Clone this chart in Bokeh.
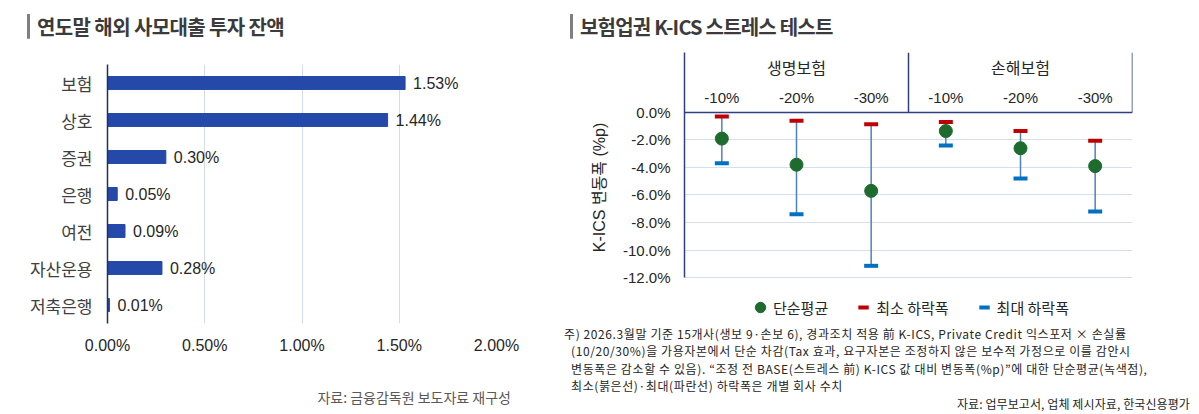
from bokeh.plotting import figure
from bokeh.models import (FactorRange, FixedTicker, PrintfTickFormatter, Span,
                          Legend, LegendItem, Div)
from bokeh.layouts import row, column
from bokeh.core.properties import value
from bokeh.embed import file_html
from bokeh.resources import INLINE

FONT = "Liberation Sans, Noto Sans CJK KR"
KFONT = "Noto Sans CJK KR"

#left chart data (연도말 해외 사모대출 투자 잔액, %)
sectors = ["보험", "상호", "증권", "은행", "여전", "자산운용", "저축은행"]
balance = [1.53, 1.44, 0.30, 0.05, 0.09, 0.28, 0.01]
balance_ticks = [0, 0.5, 1.0, 1.5, 2.0]

#right chart data (K-ICS 변동폭, %p)
groups = ["생명보험", "손해보험"]
shocks = ["-10%", "-20%", "-30%"]
avg_drop = [-1.9, -3.8, -5.7, -1.35, -2.6, -3.9]
min_drop = [-0.3, -0.6, -0.85, -0.7, -1.35, -2.05]
max_drop = [-3.7, -7.4, -11.15, -2.4, -4.8, -7.2]
kics_ticks = [0, -2, -4, -6, -8, -10, -12]


def title_div(text, width, left, spacing):
    html = ('<div style="margin:6px 0 0 %dpx;border-left:3px solid #7f7f7f;padding-left:7px;'
            'height:26px;line-height:26px;font-family:\'Noto Sans CJK KR\';font-size:20px;'
            'font-weight:700;color:#3b3b3b;letter-spacing:%.1fpx;white-space:nowrap">%s</div>'
            % (left, spacing, text))
    return Div(text=html, width=width, height=30, margin=0)


#left: horizontal bars
p1 = figure(width=545, height=334, y_range=FactorRange(*reversed(sectors)), x_range=(0, 2.0),
            output_backend="svg", toolbar_location=None,
            min_border_left=99, min_border_right=57, min_border_top=26, min_border_bottom=49)
p1.hbar(y=sectors, right=balance, height=0.35, color="#2449A9")
p1.text(x=balance, y=sectors, text=["%.2f%%" % v for v in balance], x_offset=8,
        text_baseline="middle", text_font_size="16px", text_font=value(FONT), text_color="#262626")
p1.outline_line_color = None
p1.ygrid.visible = False
p1.xgrid.ticker = FixedTicker(ticks=balance_ticks)
p1.xgrid.grid_line_color = "#D3DCEC"
p1.xaxis.ticker = FixedTicker(ticks=balance_ticks)
p1.xaxis.formatter = PrintfTickFormatter(format="%.2f%%")
p1.xaxis.axis_line_color = None
p1.xaxis.major_tick_line_color = None
p1.xaxis.minor_tick_line_color = None
p1.xaxis.major_tick_out = 0
p1.xaxis.minor_tick_out = 0
p1.xaxis.major_label_text_font = FONT
p1.xaxis.major_label_text_font_size = "16px"
p1.xaxis.major_label_text_color = "#262626"
p1.xaxis.major_label_standoff = 13
p1.yaxis.axis_line_color = "#1F2D6B"
p1.yaxis.axis_line_width = 1.5
p1.yaxis.major_tick_line_color = None
p1.yaxis.major_tick_out = 0
p1.yaxis.major_label_text_font = KFONT
p1.yaxis.major_label_text_font_size = "17px"
p1.yaxis.major_label_text_color = "#404040"
p1.yaxis.major_label_standoff = 15

src1 = Div(text='<div style="display:block;width:503px;text-align:right;padding-top:17px;'
                'font-family:\'Noto Sans CJK KR\';font-size:14px;line-height:16px;color:#595959;'
                'white-space:nowrap">자료: 금융감독원 보도자료 재구성</div>',
           width=545, height=34, margin=0)


#right: stress test range chart
factors = [(g, s) for g in groups for s in shocks]
y_top = 4.36
p2 = figure(width=638, height=284,
            x_range=FactorRange(*factors, factor_padding=0, group_padding=0, range_padding=0),
            y_range=(-15.27, y_top), output_backend="svg", toolbar_location=None,
            min_border_left=131, min_border_right=59, min_border_top=14, min_border_bottom=0)
p2.segment(x0=factors, y0=min_drop, x1=factors, y1=max_drop, line_color="#4F81BD", line_width=1.5)
r_min = p2.scatter(factors, min_drop, marker="dash", size=14, line_color="#C00000", line_width=4)
r_max = p2.scatter(factors, max_drop, marker="dash", size=14, line_color="#0070C0", line_width=4)
r_avg = p2.scatter(factors, avg_drop, size=13, fill_color="#1E6B2E", line_color="#1E6B2E")

#header: group / shock labels and dividers
navy = "#2F3F7F"
p2.add_layout(Span(location=0, dimension="width", line_color=navy, line_width=1.5))
edges = [("손해보험", "-10%", -0.5), ("손해보험", "-30%", 0.5)]
p2.segment(x0=edges, y0=[0, 0], x1=edges, y1=[y_top, y_top], line_color=navy, line_width=1.5)
p2.text(x=factors, y=[1.1] * len(factors), text=[f[1] for f in factors], text_align="center",
        text_baseline="middle", text_font_size="15px", text_font=value(FONT), text_color="#262626")
p2.text(x=groups, y=[3.27] * len(groups), text=groups, text_align="center",
        text_baseline="middle", text_font_size="16px", text_font=value(KFONT), text_color="#262626")

p2.outline_line_color = None
p2.xgrid.visible = False
p2.xaxis.visible = False
p2.ygrid.ticker = FixedTicker(ticks=[t for t in kics_ticks if t != 0])
p2.ygrid.grid_line_color = "#D6DFF0"
p2.yaxis.ticker = FixedTicker(ticks=kics_ticks)
p2.yaxis.formatter = PrintfTickFormatter(format="%.1f%%")
p2.yaxis.bounds = (-12, y_top)
p2.yaxis.axis_line_color = navy
p2.yaxis.axis_line_width = 1.5
p2.yaxis.major_tick_line_color = None
p2.yaxis.minor_tick_line_color = None
p2.yaxis.major_tick_out = 0
p2.yaxis.minor_tick_out = 0
p2.yaxis.major_label_text_font = FONT
p2.yaxis.major_label_text_font_size = "15px"
p2.yaxis.major_label_text_color = "#262626"
p2.yaxis.major_label_standoff = 14
p2.yaxis.axis_label = "K-ICS 변동폭 (%p)"
p2.yaxis.axis_label_text_font = FONT
p2.yaxis.axis_label_text_font_style = "normal"
p2.yaxis.axis_label_text_font_size = "16px"
p2.yaxis.axis_label_text_color = "#262626"
p2.yaxis.axis_label_standoff = 12

legend = Legend(items=[LegendItem(label="단순평균", renderers=[r_avg]),
                       LegendItem(label="최소 하락폭", renderers=[r_min]),
                       LegendItem(label="최대 하락폭", renderers=[r_max])],
                orientation="horizontal", location="bottom_center", border_line_color=None,
                background_fill_alpha=0, margin=2, padding=0, spacing=22, glyph_width=26,
                glyph_height=26, label_standoff=-8, label_text_font=KFONT,
                label_text_font_size="15px", label_text_color="#262626")
p2.add_layout(legend)

note_lines = [
    "주) 2026.3월말 기준 15개사(생보 9·손보 6), 경과조치 적용 前 K-ICS, Private Credit 익스포저 × 손실률",
    "(10/20/30%)을 가용자본에서 단순 차감(Tax 효과, 요구자본은 조정하지 않은 보수적 가정으로 이를 감안시",
    "변동폭은 감소할 수 있음). “조정 전 BASE(스트레스 前) K-ICS 값 대비 변동폭(%p)”에 대한 단순평균(녹색점),",
    "최소(붉은선)·최대(파란선) 하락폭은 개별 회사 수치",
]
note_html = "".join('<div style="margin-left:%dpx">%s</div>' % (11 if i == 0 else 18, t)
                    for i, t in enumerate(note_lines))
note_html = ('<div style="display:block;width:637px;padding-top:3px;font-family:\'Noto Sans CJK KR\';'
             'font-size:12px;line-height:17.4px;letter-spacing:0.6px;color:#262626;white-space:nowrap">'
             + note_html +
             '<div style="text-align:right;font-size:12px;letter-spacing:0.1px">'
             '자료: 업무보고서, 업체 제시자료, 한국신용평가</div></div>')
notes = Div(text=note_html, width=638, height=91, margin=0)

layout = row(column(title_div("연도말 해외 사모대출 투자 잔액", 545, 19, -0.6), p1, src1),
             column(title_div("보험업권 K-ICS 스트레스 테스트", 638, 17, -0.8), p2, notes))
layout.margin = (8, 0, 0, 8)

open("out.html", "w").write(file_html(layout, INLINE))
